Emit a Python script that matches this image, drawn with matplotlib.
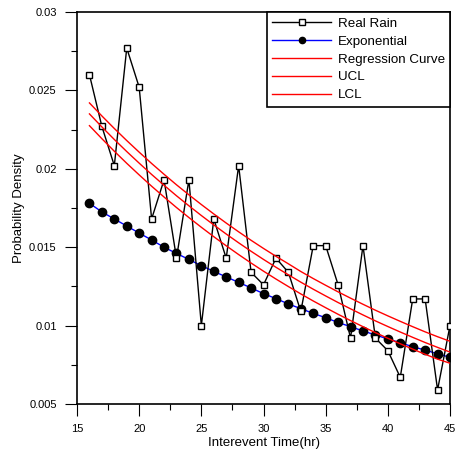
import numpy as np
import matplotlib
matplotlib.use('Agg')
import matplotlib.pyplot as plt
from matplotlib.ticker import MultipleLocator, FormatStrFormatter

plt.rcParams['font.family'] = ['Liberation Sans', 'DejaVu Sans']

# interevent time (hr)
hours = list(range(16, 46))

real_rain = [0.0260, 0.0227, 0.0202, 0.0277, 0.0252, 0.0168, 0.0193, 0.0143, 0.0193, 0.0100,
             0.0168, 0.0143, 0.0202, 0.0134, 0.0126, 0.0143, 0.0134, 0.0109, 0.0151, 0.0151,
             0.0126, 0.0092, 0.0151, 0.0092, 0.0084, 0.0067, 0.0117, 0.0117, 0.0059, 0.0100]

exponential = [0.01780, 0.01725, 0.01680, 0.01635, 0.01590, 0.01546, 0.01500, 0.01460, 0.01422, 0.01382,
               0.01346, 0.01310, 0.01276, 0.01240, 0.01204, 0.01172, 0.01138, 0.01108, 0.01078, 0.01050,
               0.01020, 0.00993, 0.00966, 0.00940, 0.00915, 0.00891, 0.00865, 0.00844, 0.00820, 0.00798]

regression = [0.02350, 0.02267, 0.02187, 0.02110, 0.02036, 0.01964, 0.01895, 0.01828, 0.01764, 0.01702,
              0.01642, 0.01584, 0.01528, 0.01474, 0.01422, 0.01372, 0.01324, 0.01277, 0.01232, 0.01189,
              0.01147, 0.01107, 0.01068, 0.01030, 0.00994, 0.00959, 0.00925, 0.00892, 0.00861, 0.00831]

ucl = [0.02420, 0.02337, 0.02257, 0.02180, 0.02106, 0.02034, 0.01965, 0.01898, 0.01834, 0.01772,
       0.01712, 0.01654, 0.01598, 0.01544, 0.01492, 0.01442, 0.01394, 0.01345, 0.01300, 0.01257,
       0.01215, 0.01175, 0.01136, 0.01098, 0.01062, 0.01027, 0.00993, 0.00960, 0.00929, 0.00900]

lcl = [0.02275, 0.02192, 0.02112, 0.02035, 0.01961, 0.01889, 0.01820, 0.01753, 0.01689, 0.01627,
       0.01567, 0.01509, 0.01453, 0.01399, 0.01347, 0.01297, 0.01249, 0.01202, 0.01157, 0.01114,
       0.01072, 0.01032, 0.00993, 0.00955, 0.00919, 0.00884, 0.00850, 0.00817, 0.00786, 0.00760]

fig = plt.figure(figsize=(4.59, 4.53), dpi=100)
ax = fig.add_axes([0.1678, 0.1082, 0.8126, 0.8653])

ax.plot(hours, real_rain, color='black', lw=1.0, marker='s', ms=5, mfc='white', mec='black', mew=1.0,
        label='Real Rain', zorder=4)
ax.plot(hours, exponential, color='blue', lw=1.0, marker='o', ms=6, mfc='black', mec='black',
        label='Exponential', zorder=3)
ax.plot(hours, regression, color='red', lw=1.0, label='Regression Curve', zorder=5)
ax.plot(hours, ucl, color='red', lw=1.0, label='UCL', zorder=5)
ax.plot(hours, lcl, color='red', lw=1.0, label='LCL', zorder=5)

ax.set_xlim(15, 45)
ax.set_ylim(0.005, 0.03)
ax.xaxis.set_major_locator(MultipleLocator(5))
ax.xaxis.set_minor_locator(MultipleLocator(2.5))
ax.yaxis.set_major_locator(MultipleLocator(0.005))
ax.yaxis.set_minor_locator(MultipleLocator(0.0025))
ax.yaxis.set_major_formatter(FormatStrFormatter('%g'))
ax.tick_params(which='major', direction='out', length=8.6, width=0.8, labelsize=8, pad=6)
ax.tick_params(which='minor', direction='out', length=4.3, width=0.8)
for s in ax.spines.values():
    s.set_linewidth(1.2)

ax.set_xlabel('Interevent Time(hr)', fontsize=9.5, labelpad=2)
ax.set_ylabel('Probability Density', fontsize=9.5, labelpad=3)

leg = ax.legend(loc='upper right', bbox_to_anchor=(1.0, 1.0), borderaxespad=0, fontsize=9.6,
                numpoints=1, markerscale=0.75, handlelength=4.4, handletextpad=0.5,
                labelspacing=0.42, borderpad=0.4, fancybox=False, framealpha=1)
leg.get_frame().set_edgecolor('black')
leg.get_frame().set_linewidth(1.2)

fig.savefig('out.png', dpi=100)
